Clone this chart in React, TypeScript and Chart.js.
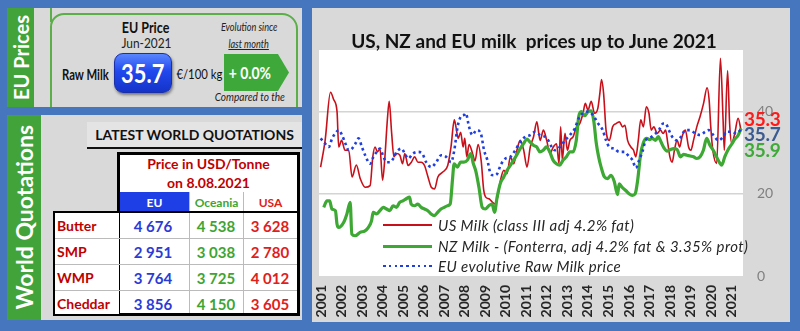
import React, { useEffect, useRef } from "react";
import { Chart, registerables } from "chart.js";

Chart.register(...registerables);

// ---------- chart data ----------
const yearTicks = [2001, 2002, 2003, 2004, 2005, 2006, 2007, 2008, 2009, 2010, 2011, 2012, 2013, 2014, 2015, 2016, 2017, 2018, 2019, 2020, 2021];
const yTicks = [0, 20, 40];

const usYears = [2000.98, 2001.2, 2001.46, 2001.62, 2001.78, 2001.86, 2002.0, 2002.17, 2002.35, 2002.51,
  2002.72, 2002.91, 2003.15, 2003.39, 2003.52, 2003.63, 2003.75, 2003.87, 2004.0, 2004.1,
  2004.23, 2004.32, 2004.44, 2004.55, 2004.68, 2004.84, 2004.97, 2005.08, 2005.24, 2005.4,
  2005.56, 2005.72, 2005.88, 2006.04, 2006.21, 2006.37, 2006.53, 2006.69, 2006.93, 2007.17,
  2007.33, 2007.49, 2007.57, 2007.68, 2007.8, 2007.92, 2008.0, 2008.1, 2008.21, 2008.37,
  2008.5, 2008.65, 2008.8, 2008.92, 2009.02, 2009.18, 2009.34, 2009.5, 2009.63, 2009.74,
  2009.9, 2010.06, 2010.22, 2010.38, 2010.54, 2010.7, 2010.87, 2011.03, 2011.19, 2011.35,
  2011.51, 2011.67, 2011.83, 2011.99, 2012.15, 2012.31, 2012.47, 2012.59, 2012.67, 2012.75,
  2012.88, 2013.0, 2013.12, 2013.28, 2013.44, 2013.6, 2013.76, 2013.87, 2014.0, 2014.16,
  2014.32, 2014.48, 2014.58, 2014.66, 2014.76, 2014.88, 2015.04, 2015.2, 2015.37, 2015.53,
  2015.69, 2015.8, 2015.93, 2016.09, 2016.22, 2016.33, 2016.45, 2016.57, 2016.7, 2016.84,
  2016.97, 2017.08, 2017.21, 2017.37, 2017.53, 2017.66, 2017.78, 2017.89, 2017.99, 2018.1,
  2018.21, 2018.34, 2018.47, 2018.58, 2018.74, 2018.9, 2019.01, 2019.14, 2019.3, 2019.46,
  2019.63, 2019.8, 2019.9, 2019.98, 2020.08, 2020.27, 2020.45, 2020.58, 2020.64, 2020.8,
  2020.9, 2021.0, 2021.15, 2021.31, 2021.46];
const usValues = [26.5, 33, 44.7, 42.9, 40, 31.4, 33, 30.6, 30.6, 24.1,
  27, 23.7, 21.6, 22, 29, 31.4, 30.2, 31, 23.3, 28.2,
  38, 42.5, 34.7, 29, 29.8, 29.4, 27.3, 29.8, 26.9, 27.7,
  29, 27.7, 27.7, 26.9, 24.1, 21.6, 21.2, 24.1, 25.3, 26.9,
  31.4, 38, 36.3, 33.5, 35, 31.4, 33.5, 29, 32, 30,
  28, 32, 28, 21, 19.2, 18.8, 18, 17.5, 20, 23.3,
  25.7, 24.9, 29, 27.3, 30.6, 33, 30.6, 26.5, 31.4, 33.9,
  37.5, 33, 35.5, 33, 29.8, 31.4, 32.2, 27.3, 36.3, 28.2,
  34.7, 30.6, 33, 33.9, 36.3, 37.1, 39.6, 42, 40.4, 42.5,
  39.6, 40.8, 44.5, 47.8, 44.5, 35.5, 33, 36.3, 37.1, 37.5,
  36.3, 36.7, 33, 31.4, 30.6, 29, 33, 38, 36.3, 41.2,
  39.6, 35.5, 36.3, 34.7, 35.5, 34.7, 35.5, 32.2, 29, 27.7,
  30.6, 33, 31.4, 33.9, 35.5, 31.4, 30.6, 33, 36.3, 38.8,
  42, 45.8, 42.9, 36.3, 30.6, 27.4, 53, 38, 30.6, 50,
  37, 32.3, 34.7, 38.4, 35.3];

const nzYears = [2001.13, 2001.29, 2001.42, 2001.53, 2001.7, 2001.78, 2001.86, 2002.1, 2002.26, 2002.42,
  2002.5, 2002.66, 2002.9, 2003.14, 2003.3, 2003.46, 2003.54, 2003.7, 2003.87, 2004.03,
  2004.19, 2004.35, 2004.51, 2004.67, 2004.83, 2004.99, 2005.15, 2005.31, 2005.39, 2005.55,
  2005.71, 2005.88, 2006.04, 2006.2, 2006.36, 2006.52, 2006.68, 2006.84, 2007.0, 2007.16,
  2007.29, 2007.4, 2007.48, 2007.64, 2007.8, 2007.96, 2008.13, 2008.29, 2008.42, 2008.53,
  2008.69, 2008.85, 2009.0, 2009.17, 2009.33, 2009.45, 2009.57, 2009.73, 2009.9, 2010.06,
  2010.22, 2010.38, 2010.54, 2010.7, 2010.86, 2011.02, 2011.18, 2011.34, 2011.5, 2011.66,
  2011.82, 2011.98, 2012.14, 2012.3, 2012.46, 2012.63, 2012.79, 2012.95, 2013.11, 2013.27,
  2013.43, 2013.55, 2013.68, 2013.84, 2014.0, 2014.16, 2014.29, 2014.4, 2014.52, 2014.64,
  2014.8, 2014.96, 2015.12, 2015.28, 2015.44, 2015.52, 2015.68, 2015.84, 2016.0, 2016.16,
  2016.3, 2016.42, 2016.56, 2016.7, 2016.86, 2017.0, 2017.13, 2017.29, 2017.42, 2017.56,
  2017.7, 2017.86, 2018.02, 2018.18, 2018.34, 2018.5, 2018.66, 2018.82, 2018.98, 2019.14,
  2019.3, 2019.46, 2019.62, 2019.78, 2019.94, 2020.1, 2020.26, 2020.42, 2020.52, 2020.66,
  2020.83, 2020.99, 2021.15, 2021.31, 2021.46];
const nzValues = [16.7, 18.3, 18.3, 16.3, 15.9, 12.6, 11.8, 13, 15.1, 17.9,
  10.2, 9.8, 10.6, 11, 11.8, 13.4, 15.5, 15.1, 15.9, 16.7,
  16.3, 15.9, 17.1, 16.7, 17.9, 18.3, 18.8, 19.2, 17.5, 17.1,
  17.5, 16.7, 16.3, 15.9, 15.1, 14.7, 15.5, 16.3, 16.7, 17.1,
  17.5, 23.3, 27.3, 26.5, 27.7, 27.7, 28.2, 29.8, 27.3, 25.7,
  21.6, 16.7, 16.3, 17.1, 17.5, 15.5, 19, 22.5, 24.1, 25.7,
  26.9, 28.2, 29.5, 31, 32.2, 33.3, 32.6, 31.8, 31.4, 30.2,
  30.6, 31.4, 30.2, 28.2, 27.3, 27, 28.2, 29, 30.2, 30.2,
  33, 38.8, 40, 39, 40, 40.2, 37.5, 32.5, 29, 26.5,
  24.1, 23.7, 24.5, 23, 19.8, 22.4, 21.5, 20.8, 20, 19.6,
  20, 23.3, 29.5, 32.5, 33.5, 33.2, 33.5, 33, 33.9, 32.6,
  31.2, 30.4, 30.8, 31, 30.8, 29, 29.6, 29.4, 29.2, 29,
  28.6, 29, 30.6, 33.5, 31.8, 30.6, 29, 27.5, 27, 29,
  30.8, 32, 33.3, 34.2, 35.9];

const euYears = [2000.98, 2001.14, 2001.38, 2001.54, 2001.7, 2001.86, 2002.02, 2002.19, 2002.35, 2002.51,
  2002.67, 2002.83, 2002.99, 2003.15, 2003.39, 2003.55, 2003.71, 2003.87, 2004.04, 2004.2,
  2004.36, 2004.52, 2004.68, 2004.92, 2005.08, 2005.24, 2005.48, 2005.72, 2005.93, 2006.12,
  2006.37, 2006.61, 2006.85, 2007.09, 2007.33, 2007.49, 2007.65, 2007.81, 2007.97, 2008.05,
  2008.21, 2008.37, 2008.57, 2008.78, 2008.94, 2009.1, 2009.26, 2009.42, 2009.58, 2009.74,
  2009.98, 2010.22, 2010.46, 2010.7, 2010.95, 2011.19, 2011.43, 2011.67, 2011.91, 2012.07,
  2012.23, 2012.39, 2012.63, 2012.88, 2013.12, 2013.36, 2013.55, 2013.76, 2014.0, 2014.24,
  2014.48, 2014.72, 2014.88, 2015.04, 2015.28, 2015.53, 2015.77, 2016.01, 2016.17, 2016.33,
  2016.49, 2016.65, 2016.81, 2016.97, 2017.21, 2017.45, 2017.66, 2017.78, 2017.94, 2018.1,
  2018.34, 2018.53, 2018.74, 2018.98, 2019.22, 2019.46, 2019.71, 2019.87, 2020.11, 2020.35,
  2020.59, 2020.75, 2020.99, 2021.23, 2021.46];
const euValues = [33.5, 32.6, 31.4, 33.5, 34.7, 35.5, 34.3, 32.2, 30.6, 31,
  32.2, 33.5, 31.4, 29.4, 27.3, 29, 30.2, 31, 29, 27.7,
  27.7, 28.6, 30.2, 31, 29.8, 28.6, 29.8, 30.2, 29.8, 27.7,
  26.5, 27.7, 29.4, 29, 27.7, 30.6, 36.3, 38.8, 39.2, 39.6,
  36.3, 34.3, 35.5, 34.7, 30.6, 28.2, 24.9, 24.5, 24.9, 26.9,
  28.6, 29, 30.6, 32.6, 33.9, 34.3, 35.1, 34.3, 33.9, 33,
  31.4, 30.6, 31.4, 33, 34.3, 35.9, 38.4, 39.6, 40, 39.2,
  37.2, 35.5, 33, 31.4, 31, 30.2, 30.2, 29, 28.2, 26.3,
  28.2, 30.2, 33, 33.5, 34.3, 35.5, 37.1, 37.1, 35.5, 33.9,
  33, 33.9, 35.5, 35.5, 34.7, 34.3, 35.1, 35.5, 34.3, 33,
  33.9, 35.1, 35.1, 34.7, 35.7];

// ---------- side panel data ----------
const products = ["Butter", "SMP", "WMP", "Cheddar"];
const euQuotes = [4676, 2951, 3764, 3856];
const oceaniaQuotes = [4538, 3038, 3725, 4150];
const usaQuotes = [3628, 2780, 4012, 3605];
const monthlyChange = 0.0;

const seriesLabels = [
  "US Milk (class III adj 4.2% fat)",
  "NZ Milk - (Fonterra, adj 4.2% fat & 3.35% prot)",
  "EU evolutive Raw Milk price",
];

const FONT = "Lato, 'Open Sans', sans-serif";
const RED = "#C8101A";
const GREEN = "#3DA833";
const BLUE = "#1F3FE0";

const CHART_LEFT = 312;
const CHART_TOP = 8;

const fmt = (n: number) => n.toString().replace(/\B(?=(\d{3})+(?!\d))/g, " ");
const last = (a: number[]) => a[a.length - 1];
const zip = (xs: number[], ys: number[]) => xs.slice(0, Math.min(xs.length, ys.length)).map((x, i) => ({ x, y: ys[i] }));

const abs = (l: number, t: number, w: number, h: number, extra: any = {}): React.CSSProperties => ({
  position: "absolute", left: l, top: t, width: w, height: h, boxSizing: "border-box", ...extra,
});
const center: React.CSSProperties = { display: "flex", alignItems: "center", justifyContent: "center", whiteSpace: "nowrap" };

// narrow text: centred on cx (or starting at cx), squeezed horizontally by sx
function Sq(props: { cx: number; cy: number; sx: number; style: React.CSSProperties; children: any; origin?: string }) {
  const { cx, cy, sx, style, children, origin } = props;
  const leftAligned = origin === "left";
  return (
    <div style={abs(leftAligned ? cx : cx - 60, cy - 12, 120, 24, { ...center, justifyContent: leftAligned ? "flex-start" : "center" })}>
      <span style={{ display: "inline-block", transform: `scaleX(${sx})`, transformOrigin: leftAligned ? "left center" : "center center", whiteSpace: "nowrap", ...style }}>{children}</span>
    </div>
  );
}

function MilkChart() {
  const ref = useRef<HTMLCanvasElement>(null);
  useEffect(() => {
    const canvas = ref.current;
    if (!canvas) return;
    const whiteArea = {
      id: "whiteArea",
      beforeDraw(c: any) {
        const { ctx, chartArea: a } = c;
        ctx.save();
        ctx.fillStyle = "#ffffff";
        ctx.fillRect(a.left, a.top, a.right - a.left, a.bottom - a.top);
        ctx.restore();
      },
    };
    const chart = new Chart(canvas, {
      type: "line",
      data: {
        datasets: [
          {
            label: seriesLabels[2], data: zip(euYears, euValues), borderColor: BLUE, borderWidth: 2.6,
            borderDash: [2.6, 3.2], pointRadius: 0, tension: 0.3, cubicInterpolationMode: "monotone", order: 0,
          },
          {
            label: seriesLabels[1], data: zip(nzYears, nzValues), borderColor: GREEN, borderWidth: 3.2,
            pointRadius: 0, tension: 0.2, cubicInterpolationMode: "monotone", order: 1,
          },
          {
            label: seriesLabels[0], data: zip(usYears, usValues), borderColor: RED, borderWidth: 1.6,
            pointRadius: 0, tension: 0.2, cubicInterpolationMode: "monotone", order: 2,
          },
        ],
      } as any,
      options: {
        animation: false,
        responsive: false,
        devicePixelRatio: 1,
        layout: { padding: { left: 6, top: 42, right: 0, bottom: 0 } },
        plugins: { legend: { display: false }, tooltip: { enabled: false }, title: { display: false } },
        scales: {
          x: {
            type: "linear", min: 2000.9, max: 2021.55,
            grid: { display: false, drawTicks: false }, border: { display: false },
            afterBuildTicks: (s: any) => { s.ticks = yearTicks.map((v) => ({ value: v })); },
            afterFit: (s: any) => { s.height = 46; },
            ticks: {
              autoSkip: false, minRotation: 90, maxRotation: 90, padding: 9, color: "#262626",
              font: { family: FONT, size: 14, weight: "bold" },
              callback: (v: any) => String(v),
            },
          },
          y: {
            position: "right", min: 0, max: 55,
            afterBuildTicks: (s: any) => { s.ticks = yTicks.map((v) => ({ value: v })); },
            afterFit: (s: any) => { s.width = 47; },
            grid: {
              drawTicks: false, lineWidth: 1.6,
              color: (c: any) => (c.tick && c.tick.value === 0 ? "rgba(0,0,0,0)" : "#D4D4D4"),
            },
            border: { display: false },
            ticks: { padding: 14, color: "#808080", font: { family: FONT, size: 14 } },
          },
        },
      } as any,
      plugins: [whiteArea],
    });
    return () => chart.destroy();
  }, []);
  return <canvas ref={ref} width={478} height={314} style={{ position: "absolute", left: CHART_LEFT, top: CHART_TOP, width: 478, height: 314, display: "block" }} />;
}

export default function App() {
  const legendRows = [
    { text: seriesLabels[0], y: 225, line: { background: RED, height: 2 } },
    { text: seriesLabels[1], y: 246, line: { background: GREEN, height: 3 } },
    { text: seriesLabels[2], y: 266, line: { background: `repeating-linear-gradient(90deg, ${BLUE} 0 2.6px, transparent 2.6px 5.8px)`, height: 2.6 } },
  ];
  const endLabels = [
    { v: last(usValues), color: "#FF1A1A", y: 118 },
    { v: last(euValues), color: "#3B5B92", y: 133 },
    { v: last(nzValues), color: "#3FAA3A", y: 149 },
  ];
  const rowTops = [212, 238, 264, 290];
  const rowH = 25;
  const cols = [
    { vals: euQuotes, color: "#2A3BD6", cx: 153 },
    { vals: oceaniaQuotes, color: "#3DA533", cx: 216 },
    { vals: usaQuotes, color: "#E0201A", cx: 270 },
  ];
  const italic: React.CSSProperties = { fontStyle: "italic", fontSize: 12, color: "#222" };
  return (
    <div style={{ position: "absolute", left: 0, top: 0, width: 800, height: 331, background: "#4676BD", fontFamily: FONT, overflow: "hidden" }}>
      {/* ---------- EU prices panel ---------- */}
      <div style={abs(34, 8, 268, 99, { background: "#D9D9D9", overflow: "hidden" })}>
        <div style={abs(16, 5, 248, 110, { border: "2px solid #5BAF48", borderTopLeftRadius: 14, borderTopRightRadius: 16 })} />
        <div style={abs(16, 0, 2, 14, { background: "#5BAF48" })} />
      </div>
      <div style={abs(7, 8, 27, 99, { background: "#43A33B", ...center })}>
        <div style={{ writingMode: "vertical-rl", transform: "rotate(180deg)", color: "#fff", fontWeight: 700, fontSize: 20 }}>EU Prices</div>
      </div>
      <Sq cx={146} cy={27} sx={0.86} style={{ fontWeight: 700, fontSize: 14.5, color: "#111" }}>EU Price</Sq>
      <Sq cx={146} cy={43} sx={0.88} style={{ fontSize: 13.5, color: "#222" }}>Jun-2021</Sq>
      <Sq cx={62} cy={74} sx={0.78} origin="left" style={{ fontWeight: 700, fontSize: 14.5, color: "#111" }}>Raw Milk</Sq>
      <div style={abs(114, 53, 58, 40, {
        ...center, borderRadius: 9, color: "#fff",
        background: "linear-gradient(#5A86FF, #2048EE 45%, #1533C8)", border: "1px solid #1A2FA8",
        boxShadow: "1px 2px 3px rgba(0,0,0,0.45)",
      })}>
        <span style={{ display: "inline-block", transform: "scaleX(0.84)", fontWeight: 700, fontSize: 26 }}>{last(euValues).toFixed(1)}</span>
      </div>
      <Sq cx={199} cy={74} sx={0.84} style={{ fontSize: 13.5, color: "#111" }}>€/100 kg</Sq>
      <div style={abs(224, 54, 65, 37, {
        background: "#3EA93A", clipPath: "polygon(0 0, 83% 0, 100% 50%, 83% 100%, 0 100%)",
      })} />
      <Sq cx={250} cy={72} sx={0.82} style={{ color: "#fff", fontWeight: 700, fontSize: 17 }}>+ {monthlyChange.toFixed(1)}%</Sq>
      <Sq cx={249} cy={26} sx={0.76} style={italic}>Evolution since</Sq>
      <Sq cx={249} cy={43} sx={0.76} style={{ ...italic, textDecoration: "underline" }}>last month</Sq>
      <div style={abs(180, 92, 120, 15, { overflow: "hidden" })}>
        <div style={abs(0, -8, 140, 24, { ...center })}>
          <span style={{ display: "inline-block", transform: "scaleX(0.84)", ...italic }}>Compared to the</span>
        </div>
      </div>

      {/* ---------- World quotations panel ---------- */}
      <div style={abs(41, 115, 261, 205, { background: "#D9D9D9" })} />
      <div style={abs(7, 115, 34, 205, { background: "#43A33B", ...center })}>
        <div style={{ writingMode: "vertical-rl", transform: "rotate(180deg)", color: "#fff", fontWeight: 700, fontSize: 23 }}>World Quotations</div>
      </div>
      <div style={abs(87, 122, 215, 27, { background: "#E4E4E4", borderBottom: "2px solid #111", ...center, fontWeight: 700, fontSize: 14, color: "#111" })}>LATEST WORLD QUOTATIONS</div>
      <div style={abs(117, 152, 183, 164, { background: "#fff", border: "3px solid #000" })} />
      <div style={abs(120, 154, 177, 19, { ...center, fontWeight: 700, fontSize: 14, color: "#C00000" })}>Price in USD/Tonne</div>
      <div style={abs(120, 173, 177, 19, { ...center, fontWeight: 700, fontSize: 14, color: "#C00000" })}>on 8.08.2021</div>
      <div style={abs(120, 192, 69, 20, { ...center, background: "#1F3FE6", color: "#fff", fontWeight: 700, fontSize: 12 })}>EU</div>
      <div style={abs(189, 192, 54, 20, { ...center, color: "#3DA533", fontWeight: 700, fontSize: 12, borderLeft: "1px solid #BBB" })}>Oceania</div>
      <div style={abs(243, 192, 54, 20, { ...center, color: "#E0201A", fontWeight: 700, fontSize: 12, borderLeft: "1px solid #BBB" })}>USA</div>
      <div style={abs(53, 211, 66, 105, { background: "#fff", border: "2px solid #000", borderRight: "none" })} />
      <div style={abs(53, 211, 247, 2, { background: "#000" })} />
      <div style={abs(189, 213, 1, 100, { background: "#BBB" })} />
      <div style={abs(243, 213, 1, 100, { background: "#BBB" })} />
      {rowTops.slice(1).map((t) => (
        <div key={"sep" + t} style={abs(55, t, 242, 1, { background: "#BBB" })} />
      ))}
      {products.map((p, i) => (
        <div key={p} style={abs(57, rowTops[i] + 1, 60, rowH, { display: "flex", alignItems: "center", fontWeight: 700, fontSize: 14, color: "#C00000" })}>{p}</div>
      ))}
      {cols.map((c, ci) =>
        c.vals.map((v, i) => (
          <div key={ci + "-" + i} style={abs(c.cx - 30, rowTops[i] + 1, 60, rowH, { ...center, fontWeight: 700, fontSize: 15, color: c.color })}>{fmt(v)}</div>
        ))
      )}

      {/* ---------- chart panel ---------- */}
      <div style={abs(CHART_LEFT, CHART_TOP, 478, 314, { background: "#D9D9D9" })} />
      <MilkChart />
      <div style={abs(304, 29, 460, 22, { ...center, fontWeight: 700, fontSize: 19, color: "#111", whiteSpace: "pre" })}>US, NZ and EU milk  prices up to June 2021</div>
      {legendRows.map((r) => (
        <React.Fragment key={r.text}>
          <div style={abs(383, r.y - r.line.height / 2, 49, r.line.height, { background: r.line.background })} />
          <div style={abs(438, r.y - 9, 320, 18, { display: "flex", alignItems: "center", fontStyle: "italic", fontSize: 15, letterSpacing: 0.4, color: "#262626", whiteSpace: "nowrap" })}>{r.text}</div>
        </React.Fragment>
      ))}
      {endLabels.map((e) => (
        <div key={e.color} style={abs(744, e.y - 9, 46, 18, { display: "flex", alignItems: "center", fontWeight: 700, fontSize: 19, color: e.color, letterSpacing: -0.3 })}>{e.v.toFixed(1)}</div>
      ))}
    </div>
  );
}
